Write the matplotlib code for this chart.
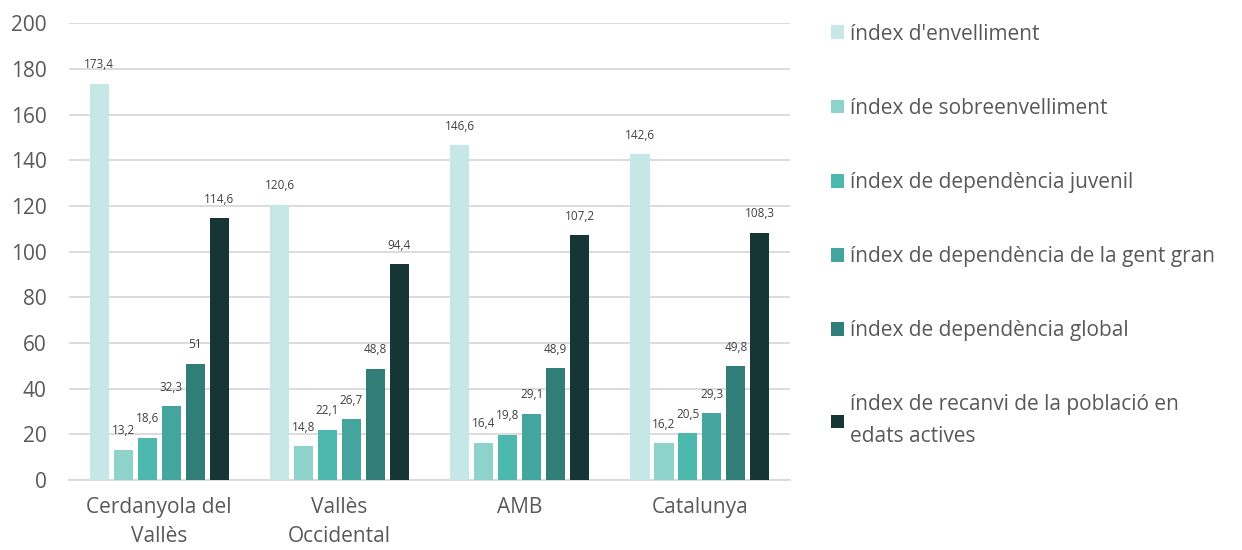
import matplotlib
matplotlib.use("Agg")
import matplotlib.pyplot as plt
import numpy as np

categories = ["Cerdanyola del\nVallès", "Vallès\nOccidental", "AMB", "Catalunya"]
series_names = [
    "índex d'envelliment",
    "índex de sobreenvelliment",
    "índex de dependència juvenil",
    "índex de dependència de la gent gran",
    "índex de dependència global",
    "índex de recanvi de la població en\nedats actives",
]
envelliment = [173.4, 120.6, 146.6, 142.6]
sobreenvelliment = [13.2, 14.8, 16.4, 16.2]
dep_juvenil = [18.6, 22.1, 19.8, 20.5]
dep_gent_gran = [32.3, 26.7, 29.1, 29.3]
dep_global = [51, 48.8, 48.9, 49.8]
recanvi = [114.6, 94.4, 107.2, 108.3]
series_values = [envelliment, sobreenvelliment, dep_juvenil, dep_gent_gran, dep_global, recanvi]
colors = ["#c5e8e6", "#8dd3cb", "#4db8ad", "#43a59e", "#317e78", "#163636"]

plt.rcParams['font.family'] = ['Open Sans', 'DejaVu Sans']
text_color = "#595959"
fs = 15

fig = plt.figure(figsize=(12.42, 5.5), dpi=100)
ax = fig.add_axes([0.0556, 0.127, 0.5805, 0.831])

x = np.arange(len(categories))
slot = 0.133
width = 0.106
for i, (vals, name, c) in enumerate(zip(series_values, series_names, colors)):
    pos = x + (i - 2.5) * slot
    bars = ax.bar(pos, vals, width=width, color=c, label=name, zorder=3)
    lbls = [f"{v:g}".replace(".", ",") for v in vals]
    ax.bar_label(bars, labels=lbls, padding=9, fontsize=8.5, color="#404040")

ax.set_xlim(-0.5, len(categories) - 0.5)
ax.set_ylim(0, 200)
ax.set_yticks(np.arange(0, 201, 20))
ax.set_xticks(x)
ax.set_xticklabels(categories, linespacing=1.5)
ax.grid(axis='y', color="#d9d9d9", linewidth=1.3, zorder=0)
ax.set_axisbelow(True)
for s in ["top", "right", "left"]:
    ax.spines[s].set_visible(False)
ax.spines["bottom"].set_color("#d9d9d9")
ax.spines["bottom"].set_linewidth(1.3)
ax.tick_params(axis='both', length=0, labelsize=fs, colors=text_color)
ax.tick_params(axis='y', pad=16)
ax.tick_params(axis='x', pad=12)

leg = fig.legend(loc="upper left", bbox_to_anchor=(0.662, 0.972), frameon=False,
                 fontsize=fs, labelspacing=2.55, handlelength=0.65, handleheight=0.65,
                 handletextpad=0.3, labelcolor=text_color, borderaxespad=0)
for t in leg.get_texts():
    t.set_linespacing(1.68)

fig.savefig("out.png", dpi=100)
